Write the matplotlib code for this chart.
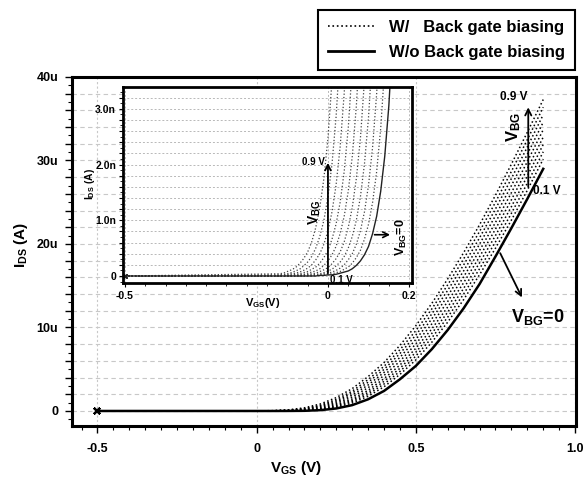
import matplotlib
matplotlib.use('Agg')
import matplotlib.pyplot as plt
from matplotlib.ticker import MultipleLocator, FuncFormatter
from matplotlib.lines import Line2D

plt.rcParams['font.family'] = ['Liberation Sans', 'DejaVu Sans']
plt.rcParams['font.weight'] = 'bold'
plt.rcParams['mathtext.fontset'] = 'custom'
plt.rcParams['mathtext.rm'] = 'Liberation Sans:bold'
plt.rcParams['mathtext.it'] = 'Liberation Sans:bold'
plt.rcParams['mathtext.bf'] = 'Liberation Sans:bold'

# main plot: I_DS (uA) vs V_GS (V)
vgs = [-0.5, 0.0, 0.05, 0.1, 0.15, 0.2, 0.25, 0.3, 0.35, 0.4, 0.45, 0.5,
       0.55, 0.6, 0.65, 0.7, 0.75, 0.8, 0.85, 0.9]
# without back gate biasing (V_BG = 0)
ids_vbg0 = [0, 0, 0, 0.005, 0.02, 0.1, 0.3, 0.7, 1.4, 2.4, 3.8, 5.4,
            7.4, 9.7, 12.3, 15.2, 18.5, 21.9, 25.4, 29.0]
# with back gate biasing, V_BG = 0.1 ... 0.9 V
vbg_levels = [0.1, 0.2, 0.3, 0.4, 0.5, 0.6, 0.7, 0.8, 0.9]
ids_vbg = [
    [0, 0, 0, 0.01, 0.05, 0.17, 0.44, 0.95, 1.76, 2.90, 4.38, 6.12, 8.23, 10.64, 13.34, 16.32, 19.49, 22.86, 26.43, 30.17],
    [0, 0, 0, 0.01, 0.07, 0.22, 0.54, 1.11, 1.99, 3.23, 4.74, 6.58, 8.76, 11.23, 14.01, 17.03, 20.25, 23.67, 27.28, 31.04],
    [0, 0, 0, 0.02, 0.09, 0.26, 0.63, 1.27, 2.22, 3.55, 5.11, 7.04, 9.29, 11.83, 14.68, 17.74, 21.01, 24.47, 28.13, 31.92],
    [0, 0, 0.01, 0.02, 0.11, 0.32, 0.74, 1.45, 2.47, 3.88, 5.50, 7.52, 9.83, 12.45, 15.36, 18.47, 21.78, 25.29, 28.99, 32.80],
    [0, 0, 0.01, 0.04, 0.16, 0.41, 0.90, 1.68, 2.79, 4.25, 5.96, 8.04, 10.43, 13.11, 16.07, 19.22, 22.58, 26.14, 29.86, 33.69],
    [0, 0, 0.01, 0.06, 0.20, 0.50, 1.06, 1.91, 3.11, 4.62, 6.42, 8.57, 11.03, 13.78, 16.78, 19.98, 23.39, 26.99, 30.74, 34.59],
    [0, 0, 0.02, 0.08, 0.25, 0.60, 1.22, 2.14, 3.44, 4.98, 6.88, 9.10, 11.62, 14.45, 17.49, 20.74, 24.19, 27.84, 31.61, 35.49],
    [0, 0, 0.02, 0.10, 0.29, 0.69, 1.38, 2.37, 3.76, 5.35, 7.34, 9.63, 12.22, 15.11, 18.21, 21.50, 25.00, 28.69, 32.49, 36.38],
    [0, 0.01, 0.04, 0.14, 0.38, 0.84, 1.60, 2.68, 4.12, 5.80, 7.86, 10.22, 12.88, 15.82, 18.96, 22.30, 25.84, 29.56, 33.38, 37.30],
]
x_ticks = [-0.5, 0, 0.5, 1.0]
x_tick_labels = ['-0.5', '0', '0.5', '1.0']

# inset: subthreshold region, I_DS (nA)
vgs_in = [-0.5, -0.12, -0.11, -0.10, -0.09, -0.08, -0.07, -0.06, -0.05, -0.04,
          -0.03, -0.02, -0.01, 0.0, 0.01, 0.02, 0.03, 0.04, 0.05, 0.06, 0.07,
          0.08, 0.09, 0.10, 0.11, 0.12, 0.13, 0.14, 0.15, 0.16]
ids_in_vbg0 = [0, 0, 0, 0, 0, 0, 0, 0, 0, 0, 0, 0.01, 0.01, 0.02, 0.02, 0.03, 0.05,
               0.07, 0.09, 0.13, 0.19, 0.27, 0.38, 0.53, 0.76, 1.07, 1.52, 2.15, 3.05, 4.32]
ids_in_vbg = [
    [0, 0, 0, 0, 0, 0, 0, 0, 0, 0, 0.01, 0.01, 0.02, 0.03, 0.04, 0.06, 0.08, 0.12, 0.16, 0.23, 0.33, 0.46, 0.66, 0.93, 1.32, 1.87, 2.65, 3.76],
    [0, 0, 0, 0, 0, 0, 0, 0, 0.01, 0.01, 0.02, 0.02, 0.04, 0.05, 0.07, 0.10, 0.14, 0.20, 0.29, 0.40, 0.57, 0.81, 1.15, 1.63, 2.31, 3.27, 4.63],
    [0, 0, 0, 0, 0, 0, 0.01, 0.01, 0.02, 0.02, 0.03, 0.04, 0.06, 0.09, 0.12, 0.18, 0.25, 0.35, 0.50, 0.71, 1.00, 1.42, 2.01, 2.85, 4.03],
    [0, 0, 0, 0, 0, 0.01, 0.01, 0.02, 0.03, 0.04, 0.05, 0.08, 0.11, 0.15, 0.22, 0.31, 0.43, 0.61, 0.87, 1.23, 1.75, 2.47, 3.51],
    [0, 0, 0, 0.01, 0.01, 0.02, 0.02, 0.03, 0.05, 0.07, 0.09, 0.13, 0.19, 0.27, 0.38, 0.53, 0.76, 1.07, 1.52, 2.15, 3.05, 4.32],
    [0, 0.01, 0.01, 0.01, 0.02, 0.03, 0.04, 0.06, 0.08, 0.12, 0.16, 0.23, 0.33, 0.46, 0.66, 0.93, 1.32, 1.87, 2.65, 3.76],
    [0, 0.01, 0.02, 0.02, 0.04, 0.05, 0.07, 0.10, 0.14, 0.20, 0.29, 0.40, 0.57, 0.81, 1.15, 1.63, 2.31, 3.27, 4.63],
    [0, 0.02, 0.03, 0.04, 0.06, 0.09, 0.12, 0.18, 0.25, 0.35, 0.50, 0.71, 1.00, 1.42, 2.01, 2.85, 4.03],
    [0, 0.04, 0.05, 0.08, 0.11, 0.15, 0.22, 0.31, 0.43, 0.61, 0.87, 1.23, 1.75, 2.47, 3.51],
]
x_ticks_in = [-0.5, 0, 0.2]
x_tick_labels_in = ['-0.5', '0', '0.2']


def fmt_main(v, pos):
    if abs(v) < 1e-9:
        return '0'
    if abs(v / 10 - round(v / 10)) < 1e-6:
        return '%du' % round(v)
    return ''


def fmt_inset(v, pos):
    if abs(v) < 1e-9:
        return '0'
    if abs(v - round(v)) < 1e-6:
        return '%.1fn' % v
    return ''


fig = plt.figure(figsize=(5.87, 4.8), dpi=100)

# ---- main axes ----
ax = fig.add_axes([0.1227, 0.1125, 0.8586, 0.7271])
ax.grid(axis='y', which='major', color='#c8c8c8', lw=0.8, ls=(0, (4, 3)))
ax.grid(axis='x', which='major', color='#c8c8c8', lw=0.8, ls=(0, (2, 2)))
ax.set_axisbelow(True)

for curve in ids_vbg:
    ax.plot(vgs, curve, ls=':', lw=1.1, color='k',
            marker='x', markevery=[0], ms=5, mew=1.3)
ax.plot(vgs, ids_vbg0, ls='-', lw=1.8, color='k',
        marker='x', markevery=[0], ms=5, mew=1.3)

ax.set_xlim(-0.58, 1.003)
ax.set_ylim(-1.8, 40)
ax.set_xticks(x_ticks, x_tick_labels)
ax.xaxis.set_minor_locator(MultipleLocator(0.05))
ax.yaxis.set_major_locator(MultipleLocator(2))
ax.yaxis.set_major_formatter(FuncFormatter(fmt_main))
ax.yaxis.set_minor_locator(MultipleLocator(1))
ax.tick_params(which='major', direction='out', length=5, width=1, labelsize=9, pad=5)
ax.tick_params(which='minor', direction='out', length=3, width=0.8)
ax.tick_params(axis='x', which='major', pad=7)
for s in ax.spines.values():
    s.set_linewidth(2.2)

ax.set_xlabel(r'$\mathrm{V_{GS}}$ (V)', fontsize=11, fontweight='bold')
ax.xaxis.set_label_coords(0.444, -0.095)
ax.set_ylabel(r'$\mathrm{I_{DS}}$ (A)', fontsize=11, fontweight='bold')
ax.yaxis.set_label_coords(-0.083, 0.519)

# back gate arrow and labels
ax.annotate('', xy=(0.853, 36.7), xytext=(0.853, 26.5),
            arrowprops=dict(arrowstyle='->', lw=1.3, color='k', mutation_scale=11))
ax.text(0.807, 37.6, '0.9 V', fontsize=8.5, ha='center', va='center')
ax.text(0.868, 26.4, '0.1 V', fontsize=8.5, ha='left', va='center')
ax.text(0.807, 34.0, r'$\mathrm{V_{BG}}$', fontsize=12, rotation=90,
        ha='center', va='center')
ax.annotate('', xy=(0.837, 13.3), xytext=(0.761, 19.2),
            arrowprops=dict(arrowstyle='->', lw=1.3, color='k', mutation_scale=11))
ax.text(0.883, 11.3, r'$\mathrm{V_{BG}}$=0', fontsize=13, ha='center', va='center')

# ---- inset ----
axi = fig.add_axes([0.2095, 0.4104, 0.4923, 0.4083])
axi.set_facecolor('white')
axi.grid(axis='y', which='major', color='#b8b8b8', lw=0.7, ls=(0, (2, 2)))
axi.grid(axis='x', which='major', color='#b8b8b8', lw=0.7, ls=(0, (2, 2)))
axi.set_axisbelow(True)

for curve in ids_in_vbg:
    axi.plot(vgs_in[:len(curve)], curve, ls=':', lw=0.9, color='#444444',
             marker='x', markevery=[0], ms=3, mew=1)
axi.plot(vgs_in[:len(ids_in_vbg0)], ids_in_vbg0, ls='-', lw=1.0, color='#222222',
         marker='x', markevery=[0], ms=3, mew=1)

axi.set_xlim(-0.505, 0.207)
axi.set_ylim(-0.126, 3.39)
axi.set_xticks(x_ticks_in, x_tick_labels_in)
axi.xaxis.set_minor_locator(MultipleLocator(0.05))
axi.yaxis.set_major_locator(MultipleLocator(0.2))
axi.yaxis.set_major_formatter(FuncFormatter(fmt_inset))
axi.yaxis.set_minor_locator(MultipleLocator(0.1))
axi.tick_params(which='major', direction='out', length=3, width=0.8, labelsize=7.5, pad=2)
axi.tick_params(which='minor', direction='out', length=2, width=0.6)
axi.tick_params(axis='x', which='major', pad=3)
for s in axi.spines.values():
    s.set_linewidth(2.0)

axi.set_xlabel(r'$\mathrm{V_{GS}}$(V)', fontsize=8, fontweight='bold')
axi.xaxis.set_label_coords(0.484, -0.068)
axi.set_ylabel(r'$\mathrm{I_{DS}}$ (A)', fontsize=7.5, fontweight='bold')
axi.yaxis.set_label_coords(-0.09, 0.505)

axi.annotate('', xy=(0.0, 2.08), xytext=(0.0, 0.0),
             arrowprops=dict(arrowstyle='->', lw=1.3, color='k', mutation_scale=10))
axi.text(-0.036, 2.05, '0.9 V', fontsize=7, ha='center', va='center')
axi.text(0.032, -0.07, '0.1 V', fontsize=7, ha='center', va='center')
axi.text(-0.032, 1.15, r'$\mathrm{V_{BG}}$', fontsize=10, rotation=90,
         ha='center', va='center')
axi.annotate('', xy=(0.16, 0.74), xytext=(0.108, 0.74),
             arrowprops=dict(arrowstyle='->', lw=1.2, color='k', mutation_scale=10))
axi.text(0.182, 0.70, r'$\mathrm{V_{BG}}$=0', fontsize=9, rotation=90,
         ha='center', va='center')

# ---- legend above the plot ----
handles = [Line2D([], [], ls=':', lw=1.2, color='k'),
           Line2D([], [], ls='-', lw=2.0, color='k')]
leg = fig.legend(handles, ['W/   Back gate biasing', 'W/o Back gate biasing'],
                 loc='upper right', bbox_to_anchor=(0.98, 0.979),
                 borderaxespad=0,
                 fontsize=12, frameon=True, fancybox=False, edgecolor='k',
                 framealpha=1, handlelength=2.8, handletextpad=0.9,
                 borderpad=0.6, labelspacing=0.6)
leg.get_frame().set_linewidth(1.5)

fig.savefig('out.png', dpi=100)
